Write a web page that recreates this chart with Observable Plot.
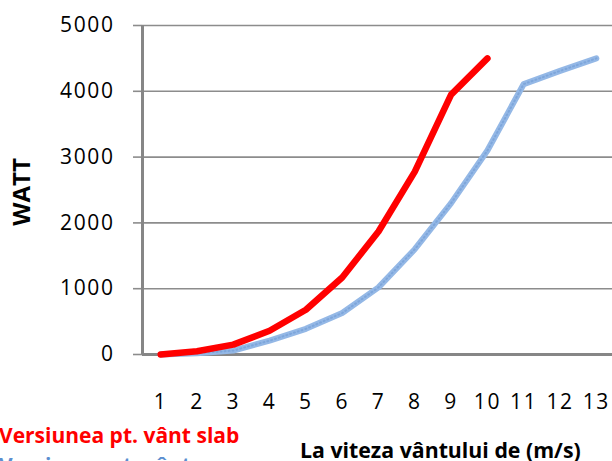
<!DOCTYPE html>
<html>
<head>
<meta charset="utf-8">
<script src="https://cdn.jsdelivr.net/npm/d3@7"></script>
<script src="https://cdn.jsdelivr.net/npm/@observablehq/plot@0.6"></script>
<style>
  html, body { margin: 0; padding: 0; background: #fff; }
  #wrap { position: relative; width: 612px; height: 461px; overflow: hidden; font-family: "Open Sans", sans-serif; }
  #overlay { position: absolute; left: 0; top: 0; pointer-events: none; }
</style>
</head>
<body>
<div id="wrap">
  <div id="chart"></div>
  <svg id="overlay" width="612" height="461" xmlns="http://www.w3.org/2000/svg">
    <text id="ylab" x="0" y="0" transform="translate(30,192) rotate(-90)" text-anchor="middle" font-family="Open Sans" font-weight="bold" font-size="24" fill="#000"></text>
    <text id="xlab" x="300" y="458" font-family="Open Sans" font-weight="bold" font-size="21.3" fill="#000"></text>
    <text id="leg1" x="-1" y="443" font-family="Open Sans" font-weight="bold" font-size="21" fill="#FF0000"></text>
    <text id="leg2" x="-1" y="473" font-family="Open Sans" font-weight="bold" font-size="21" fill="#5B8FD0"></text>
  </svg>
</div>
<script>
// ---- data ----
const speeds = [1, 2, 3, 4, 5, 6, 7, 8, 9, 10, 11, 12, 13];
const yTicks = [0, 1000, 2000, 3000, 4000, 5000];
const redValues = [0, 50, 150, 360, 680, 1170, 1870, 2780, 3950, 4500];
const blueValues = [0, 20, 60, 210, 390, 630, 1020, 1600, 2300, 3100, 4110, 4310, 4500];
const seriesNames = ["Versiunea pt. vânt slab", "Versiunea pt. vânt mare"];
const xTitle = "La viteza vântului de (m/s)";
const yTitle = "WATT";

const redData = redValues.map((v, i) => ({speed: speeds[i], watt: v}));
const blueData = blueValues.map((v, i) => ({speed: speeds[i], watt: v}));

const chart = Plot.plot({
  width: 612,
  height: 420,
  marginLeft: 142,
  marginRight: 0,
  marginTop: 25,
  marginBottom: 66,
  style: {fontFamily: "Open Sans", fontSize: "21px", background: "#fff", overflow: "visible"},
  x: {type: "linear", domain: [0.5, 13.5], range: [142, 614]},
  y: {domain: [0, 5000]},
  marks: [
    Plot.gridY({ticks: yTicks.slice(1), stroke: "#8c8c8c", strokeOpacity: 1, strokeWidth: 1.6}),
    Plot.axisY({ticks: yTicks, tickSize: 9, tickPadding: 19, stroke: "#8c8c8c", strokeWidth: 1.6,
                fill: "#000", fontSize: 21, label: null, tickFormat: d => String(d)}),
    Plot.axisX({ticks: speeds, tickSize: 0, tickPadding: 40, fill: "#000", fontSize: 21,
                label: null, tickFormat: d => String(d)}),
    Plot.ruleX([0.5], {stroke: "#868686", strokeWidth: 3}),
    Plot.ruleY([0], {stroke: "#868686", strokeWidth: 3}),
    Plot.line(blueData, {x: "speed", y: "watt", stroke: "#94B8E6", strokeWidth: 6, strokeLinejoin: "round"}),
    Plot.line(blueData, {x: "speed", y: "watt", stroke: "#6E9AD4", strokeWidth: 2, strokeDasharray: "1,3", strokeOpacity: 0.6}),
    Plot.line(redData, {x: "speed", y: "watt", stroke: "#FF0000", strokeWidth: 6.5, strokeLinecap: "round", strokeLinejoin: "round"})
  ]
});
chart.querySelectorAll("text").forEach(t => t.style.letterSpacing = "1.6px");
document.getElementById("chart").appendChild(chart);

document.getElementById("ylab").textContent = yTitle;
document.getElementById("xlab").textContent = xTitle;
document.getElementById("leg1").textContent = seriesNames[0];
document.getElementById("leg2").textContent = seriesNames[1];
</script>
</body>
</html>
